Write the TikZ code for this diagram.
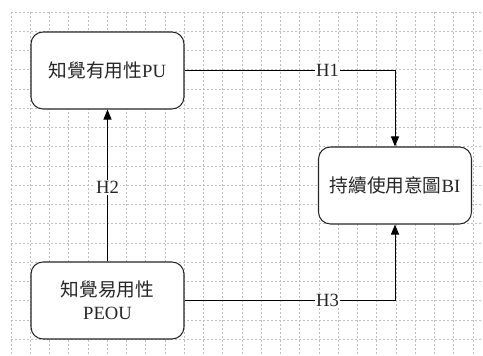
\documentclass[tikz,border=0pt]{standalone}
\usepackage{fontspec}
\setmainfont{Liberation Serif}
\newfontfamily\cjk{Noto Sans CJK TC}
\usetikzlibrary{arrows.meta}
\begin{document}
\begin{tikzpicture}[x=0.75pt,y=-0.75pt,
  gridline/.style={draw=black!25, line width=0.5pt, dash pattern=on 1.5pt off 1.5pt},
  box/.style={draw=black!85, line width=0.8pt, fill=white, rounded corners=9pt,
    minimum width=114.75pt, minimum height=57.75pt, align=center,
    font=\fontsize{14}{17}\selectfont, text=black!85, inner sep=2pt},
  conn/.style={draw=black, line width=0.75pt, -{Triangle[length=7.5pt,width=6pt]}},
  lbl/.style={fill=white, inner sep=1pt, font=\fontsize{14}{17}\selectfont, text=black!85}]
\useasboundingbox (0,0) rectangle (483,356);
\foreach \i in {0,...,24} {\draw[gridline] ({11+19.25*\i},12) -- ({11+19.25*\i},356);}
\foreach \j in {0,...,17} {\draw[gridline] (11,{12+19.25*\j}) -- (483,{12+19.25*\j});}
\node[box] (pu) at (107.5,70.5) {{\cjk 知覺有用性}PU};
\node[box] (peou) at (107.5,300.5) {{\cjk 知覺易用性}\\PEOU};
\node[box] (bi) at (395,185.5) {{\cjk 持續使用意圖}BI};
\draw[conn] (pu.east) -| node[lbl, pos=0.34] {H1} (bi.north);
\draw[conn] (peou.east) -| node[lbl, pos=0.34] {H3} (bi.south);
\draw[conn] (peou.north) -- node[lbl, pos=0.49] {H2} (pu.south);
\end{tikzpicture}
\end{document}
